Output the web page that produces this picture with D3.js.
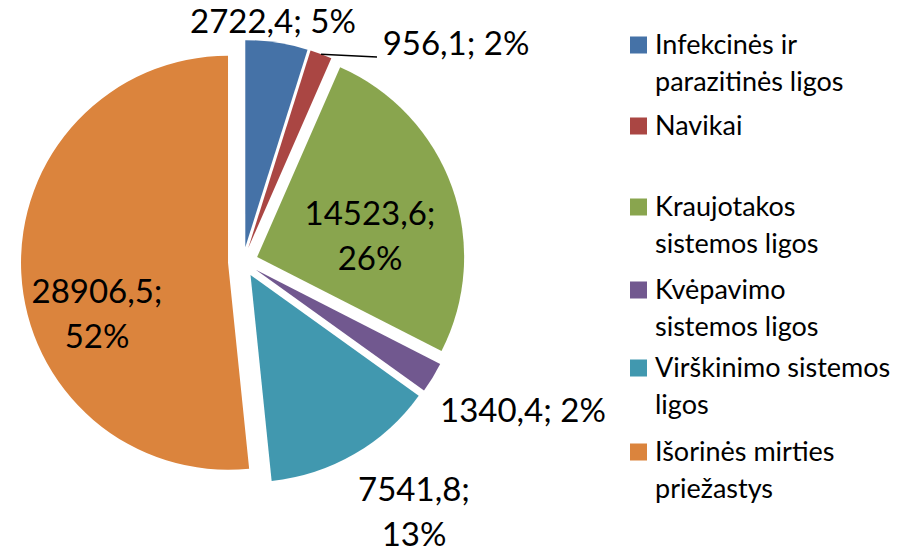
<!DOCTYPE html>
<html>
<head>
<meta charset="utf-8">
<script src="https://cdn.jsdelivr.net/npm/d3@7"></script>
<style>
  body { margin: 0; background: #fff; }
  text { font-family: Lato, "Open Sans", sans-serif; fill: #000; }
</style>
</head>
<body>
<div id="chart"></div>
<script>
const svgWidth = 904;
const svgHeight = 551;

// data
const categories = [
  "Infekcinės ir parazitinės ligos",
  "Navikai",
  "Kraujotakos sistemos ligos",
  "Kvėpavimo sistemos ligos",
  "Virškinimo sistemos ligos",
  "Išorinės mirties priežastys"
];
const values = [2722.4, 956.1, 14523.6, 1340.4, 7541.8, 28906.5];
const percents = ["5%", "2%", "26%", "2%", "13%", "52%"];
const valueLabels = ["2722,4", "956,1", "14523,6", "1340,4", "7541,8", "28906,5"];
const legendLines = [
  ["Infekcinės ir", "parazitinės ligos"],
  ["Navikai"],
  ["Kraujotakos", "sistemos ligos"],
  ["Kvėpavimo", "sistemos ligos"],
  ["Virškinimo sistemos", "ligos"],
  ["Išorinės mirties", "priežastys"]
];
const colors = ["#4572A7", "#AA4643", "#89A54E", "#71588F", "#4198AF", "#DB843D"];

// layout
const center = {x: 243, y: 262};
const radius = 207;
const explode = 15;
// label anchor (center x, first baseline), lines
const labelLayout = [
  {x: 273, y: 33, lines: 1},
  {x: 456, y: 55, lines: 1},
  {x: 370, y: 225, lines: 2},
  {x: 523, y: 422, lines: 1},
  {x: 414, y: 501, lines: 2},
  {x: 97, y: 303, lines: 2}
];
const legendRows = [45, 126, 207, 290, 368, 452];

const svg = d3.select("#chart")
  .append("svg")
  .attr("width", svgWidth)
  .attr("height", svgHeight);

svg.append("rect")
  .attr("width", svgWidth)
  .attr("height", svgHeight)
  .attr("fill", "#fff");

const pie = d3.pie().sort(null).value(d => d)(values);
const arc = d3.arc().innerRadius(0).outerRadius(radius);

const pieGroup = svg.append("g")
  .attr("transform", `translate(${center.x}, ${center.y})`);

pieGroup.selectAll("path")
  .data(pie)
  .enter()
  .append("path")
  .attr("d", arc)
  .attr("fill", (d, i) => colors[i])
  .attr("transform", d => {
    const mid = (d.startAngle + d.endAngle) / 2;
    return `translate(${Math.sin(mid) * explode}, ${-Math.cos(mid) * explode})`;
  });

// leader line for the small red slice
const red = pie[1];
const redMid = (red.startAngle + red.endAngle) / 2;
const lx = center.x + Math.sin(redMid) * (explode + radius);
const ly = center.y - Math.cos(redMid) * (explode + radius);
svg.append("line")
  .attr("x1", lx)
  .attr("y1", ly)
  .attr("x2", 377)
  .attr("y2", 57)
  .attr("stroke", "#000")
  .attr("stroke-width", 1.5);

// data labels
labelLayout.forEach((l, i) => {
  const t = svg.append("text")
    .attr("text-anchor", "middle")
    .attr("font-size", 33);
  if (l.lines === 1) {
    t.append("tspan").attr("x", l.x).attr("y", l.y)
      .text(`${valueLabels[i]}; ${percents[i]}`);
  } else {
    t.append("tspan").attr("x", l.x).attr("y", l.y).text(`${valueLabels[i]};`);
    t.append("tspan").attr("x", l.x).attr("y", l.y + 45).text(percents[i]);
  }
});

// legend
const legend = svg.append("g");
legendLines.forEach((lines, i) => {
  const cy = legendRows[i];
  legend.append("rect")
    .attr("x", 630)
    .attr("y", cy - 8.5)
    .attr("width", 17)
    .attr("height", 17)
    .attr("fill", colors[i]);
  const t = legend.append("text").attr("font-size", 27);
  lines.forEach((s, j) => {
    t.append("tspan")
      .attr("x", 655)
      .attr("y", cy + 9 + j * 37)
      .text(s);
  });
});
</script>
</body>
</html>
